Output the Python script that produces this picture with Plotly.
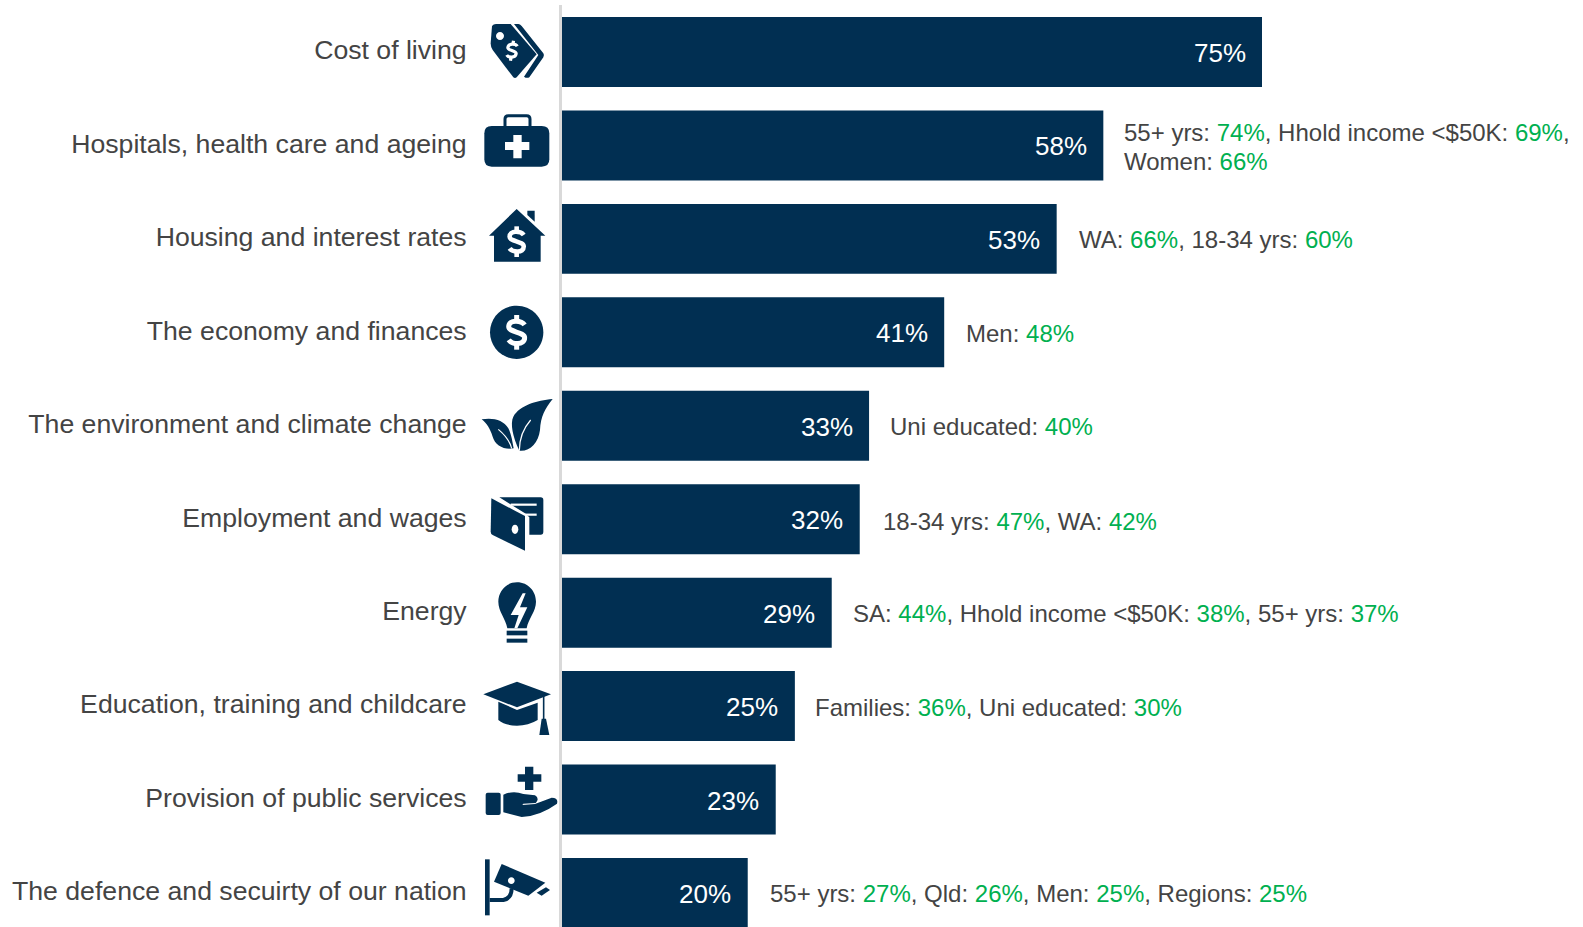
import re
import plotly.graph_objects as go

W, H = 1583, 927
ML, MT = 562, 5
PX_PER_PCT = 700 / 75
NAVY = "#012f52"
GREY = "#444444"
GREEN = "#00b050"

categories = [
    "Cost of living", "Hospitals, health care and ageing", "Housing and interest rates",
    "The economy and finances", "The environment and climate change", "Employment and wages",
    "Energy", "Education, training and childcare", "Provision of public services",
    "The defence and secuirty of our nation",
]
values = [75, 58, 53, 40.95, 32.9, 31.9, 28.9, 24.95, 22.9, 19.9]
value_labels = ["75%", "58%", "53%", "41%", "33%", "32%", "29%", "25%", "23%", "20%"]
# one list per category; one inner list per printed line of (group, percent)
breakdowns = [
    [],
    [[("55+ yrs", 74), ("Hhold income <$50K", 69)], [("Women", 66)]],
    [[("WA", 66), ("18-34 yrs", 60)]],
    [[("Men", 48)]],
    [[("Uni educated", 40)]],
    [[("18-34 yrs", 47), ("WA", 42)]],
    [[("SA", 44), ("Hhold income <$50K", 38), ("55+ yrs", 37)]],
    [[("Families", 36), ("Uni educated", 30)]],
    [],
    [[("55+ yrs", 27), ("Qld", 26), ("Men", 25), ("Regions", 25)]],
]
gap_px = [19, 19, 20, 20, 19, 21, 19, 18, 19, 20]
text_dy = [-1, -1, -1, -1, -1, -2, -1, -1, -1, -1]

fig = go.Figure(go.Bar(
    y=categories, x=values, orientation="h", marker=dict(color=NAVY, line=dict(width=0)),
    width=0.749, hoverinfo="skip",
))

for cat, v, lab in zip(categories, values, value_labels):
    fig.add_annotation(x=v, y=cat, text=lab, xanchor="right", yanchor="middle", xshift=-14.5, yshift=-1,
                       showarrow=False, font=dict(size=26, color="#ffffff"))


def line_html(items, trailing):
    parts = [f'{g}: <span style="color:{GREEN}">{p}%</span>' for g, p in items]
    return ", ".join(parts).replace("<$", "&lt;$") + ("," if trailing else "")


for cat, v, lines, gap, dy in zip(categories, values, breakdowns, gap_px, text_dy):
    for i, items in enumerate(lines):
        shift = dy if len(lines) == 1 else (13 if i == 0 else -16)
        fig.add_annotation(x=v, y=cat, text=line_html(items, i < len(lines) - 1), xanchor="left", yanchor="middle",
                           xshift=gap, yshift=shift, showarrow=False, align="left",
                           font=dict(size=24, color=GREY))


# ---------- icons (decorative vector shapes, drawn in page pixels) ----------
def to_paper(path, ox, oy):
    nums = iter(range(10 ** 6))

    def rep(m):
        n = next(nums)
        val = float(m.group(0))
        if n % 2 == 0:
            return f"{((ox + val / 3) - ML) / (W - ML):.5f}"
        return f"{1 - ((oy + val / 3) - MT) / (H - MT):.5f}"
    return re.sub(r"-?\d+\.?\d*", rep, path)


def fill(path, ox, oy, color=NAVY):
    fig.add_shape(type="path", xref="paper", yref="paper", path=to_paper(path, ox, oy),
                  fillcolor=color, line=dict(width=0), layer="above")


def stroke(path, ox, oy, width, color=NAVY):
    fig.add_shape(type="path", xref="paper", yref="paper", path=to_paper(path, ox, oy),
                  line=dict(width=width, color=color), layer="above")


def ellipse(cx, cy, rx, ry):
    k = 0.5523
    return (f"M{cx - rx} {cy} C{cx - rx} {cy - k * ry} {cx - k * rx} {cy - ry} {cx} {cy - ry} "
            f"C{cx + k * rx} {cy - ry} {cx + rx} {cy - k * ry} {cx + rx} {cy} "
            f"C{cx + rx} {cy + k * ry} {cx + k * rx} {cy + ry} {cx} {cy + ry} "
            f"C{cx - k * rx} {cy + ry} {cx - rx} {cy + k * ry} {cx - rx} {cy} Z")


def dollar(cx, cy, s, dx=0.0):
    """white S-with-bar drawn as strokes; s = half height in zoom units"""
    a = s * 0.46
    b = s * 0.70
    def P(x, y):
        return f"{cx + x + dx * y:.1f} {cy + y:.1f}"
    return (f"M{P(a, -b * 0.62)} C{P(a * 0.6, -b)} {P(-a, -b * 1.1)} {P(-a, -b * 0.45)} "
            f"C{P(-a, 0)} {P(a, -b * 0.05)} {P(a, b * 0.45)} "
            f"C{P(a, b * 1.1)} {P(-a * 0.6, b)} {P(-a, b * 0.62)}"), \
           f"M{P(0, -s)} L{P(0, -b * 0.8)}", f"M{P(0, b * 0.8)} L{P(0, s)}"


def draw_dollar(cx, cy, s, width, dx=0.0):
    for p in dollar(cx, cy, s, dx):
        stroke(p, ZO[0], ZO[1], width, "#ffffff")


# tag
ZO = (470, 0)
fill("M66 78 Q70 72 78 72 L122 72 L200 163 L140 232 Q135 236 130 232 L68 150 Q62 142 62 130 Z", *ZO)
fill("M132 72 L145 72 Q150 72 155 78 L220 160 Q224 166 220 172 L178 232 Q170 236 162 230 L205 165 Z", *ZO)
fill(ellipse(90, 108, 12, 12), *ZO, "#ffffff")
draw_dollar(126, 152, 30, 3.2, -0.15)
# medical kit
stroke("M105 378 L105 357 Q105 347 115 347 L170 347 Q180 347 180 357 L180 378", *ZO, 3)
fill("M65 378 L215 378 Q238 378 238 400 L238 478 Q238 500 215 500 L65 500 Q43 500 43 478 L43 400 Q43 378 65 378 Z", *ZO)
fill("M130 405 L155 405 L155 426 L178 426 L178 450 L155 450 L155 475 L130 475 L130 450 L105 450 L105 426 L130 426 Z", *ZO, "#ffffff")
# house
fill("M140 627 L226 707 L212 707 L212 785 L72 785 L72 707 L57 707 Z", *ZO)
fill("M172 632 L194 632 L194 665 L172 645 Z", *ZO)
draw_dollar(140, 725, 46, 4.6)
# coin
ZO = (470, 280)
fill(ellipse(140, 157, 80, 80), *ZO)
draw_dollar(140, 157, 52, 5)
# leaves
fill("M248 357 C200 362 150 375 130 410 C120 430 128 470 148 512 C180 515 205 490 210 450 C212 410 225 385 248 357 Z", *ZO)
fill("M35 418 C70 412 100 420 115 445 C125 465 128 490 131 505 C100 510 75 495 68 470 C60 445 50 430 35 418 Z", *ZO)
stroke("M182 420 C160 445 148 480 148 512", *ZO, 1.2, "#ffffff")
stroke("M85 448 C105 465 120 485 125 505", *ZO, 1.2, "#ffffff")
# wallet
fill("M88 652 L212 652 Q220 652 220 660 L220 755 Q220 764 212 764 L178 764 L178 712 L165 700 Z", *ZO)
stroke("M122 674 L200 674", *ZO, 2.2, "#ffffff")
stroke("M165 704 L200 704", *ZO, 2.2, "#ffffff")
fill("M64 655 L165 708 L165 812 L68 765 Q62 762 62 755 Z", *ZO)
fill(ellipse(135, 748, 10, 14), *ZO, "#ffffff")
# bulb
ZO = (470, 560)
fill("M141 67 C175 67 198 95 198 125 C198 155 175 175 170 205 L112 205 C107 175 85 155 85 125 C85 95 107 67 141 67 Z", *ZO)
fill("M158 100 L122 165 L146 165 L133 205 L142 205 L172 142 L150 142 L167 100 Z", *ZO, "#ffffff")
fill("M110 212 L172 212 L172 226 L110 226 Z", *ZO)
fill("M110 236 L172 236 L172 248 L110 248 Z", *ZO)
# graduation cap
fill("M141 365 L243 403 L141 442 L40 403 Z", *ZO)
fill("M85 425 L141 450 L203 428 L203 480 Q175 497 141 497 Q105 497 85 480 Z", *ZO)
stroke("M221 405 L221 480", *ZO, 1.6)
fill("M215 476 L228 476 L238 525 L208 525 Z", *ZO)
# helping hand
fill("M165 620 L190 620 L190 643 L214 643 L214 665 L190 665 L190 690 L165 690 L165 665 L143 665 L143 643 L165 643 Z", *ZO)
fill("M53 698 L86 698 Q92 698 92 704 L92 759 Q92 765 86 765 L53 765 Q47 765 47 759 L47 704 Q47 698 53 698 Z", *ZO)
fill("M100 704 Q130 690 160 702 L195 706 Q210 716 197 729 L160 731 L157 735 L195 732 L245 713 Q266 713 261 731 Q210 768 155 771 L100 757 Z", *ZO)
# camera
fill("M45 898 L59 898 L59 1066 L45 1066 Z", *ZO)
stroke("M59 1020 L100 1020 Q125 1015 125 985", *ZO, 4)
fill("M95 912 L226 968 L175 1007 L72 965 Z", *ZO)
fill(ellipse(124, 962, 10, 10), *ZO, "#ffffff")
fill("M200 998 L228 982 L240 990 L215 1007 Z", *ZO)

fig.update_layout(
    width=W, height=H, paper_bgcolor="#ffffff", plot_bgcolor="#ffffff", showlegend=False,
    margin=dict(l=ML, r=0, t=MT, b=0, pad=0),
    font=dict(family="Liberation Sans, Arial, sans-serif", color=GREY),
    xaxis=dict(visible=False, range=[0, (W - ML) / PX_PER_PCT], fixedrange=True),
    yaxis=dict(type="category", categoryorder="array", categoryarray=categories,
               range=[(927 - 52) / 93.44, (MT - 52) / 93.44], showline=True, linecolor="#d9d9d9", linewidth=3,
               ticks="", showgrid=False, zeroline=False, ticklabelstandoff=87, ticklabelshift=2,
               tickfont=dict(size=26.65, color=GREY), automargin=False, fixedrange=True),
)

fig.write_html("out.html", config={"displayModeBar": False},
               post_script="document.body.style.margin='0';document.body.style.overflow='hidden';")
